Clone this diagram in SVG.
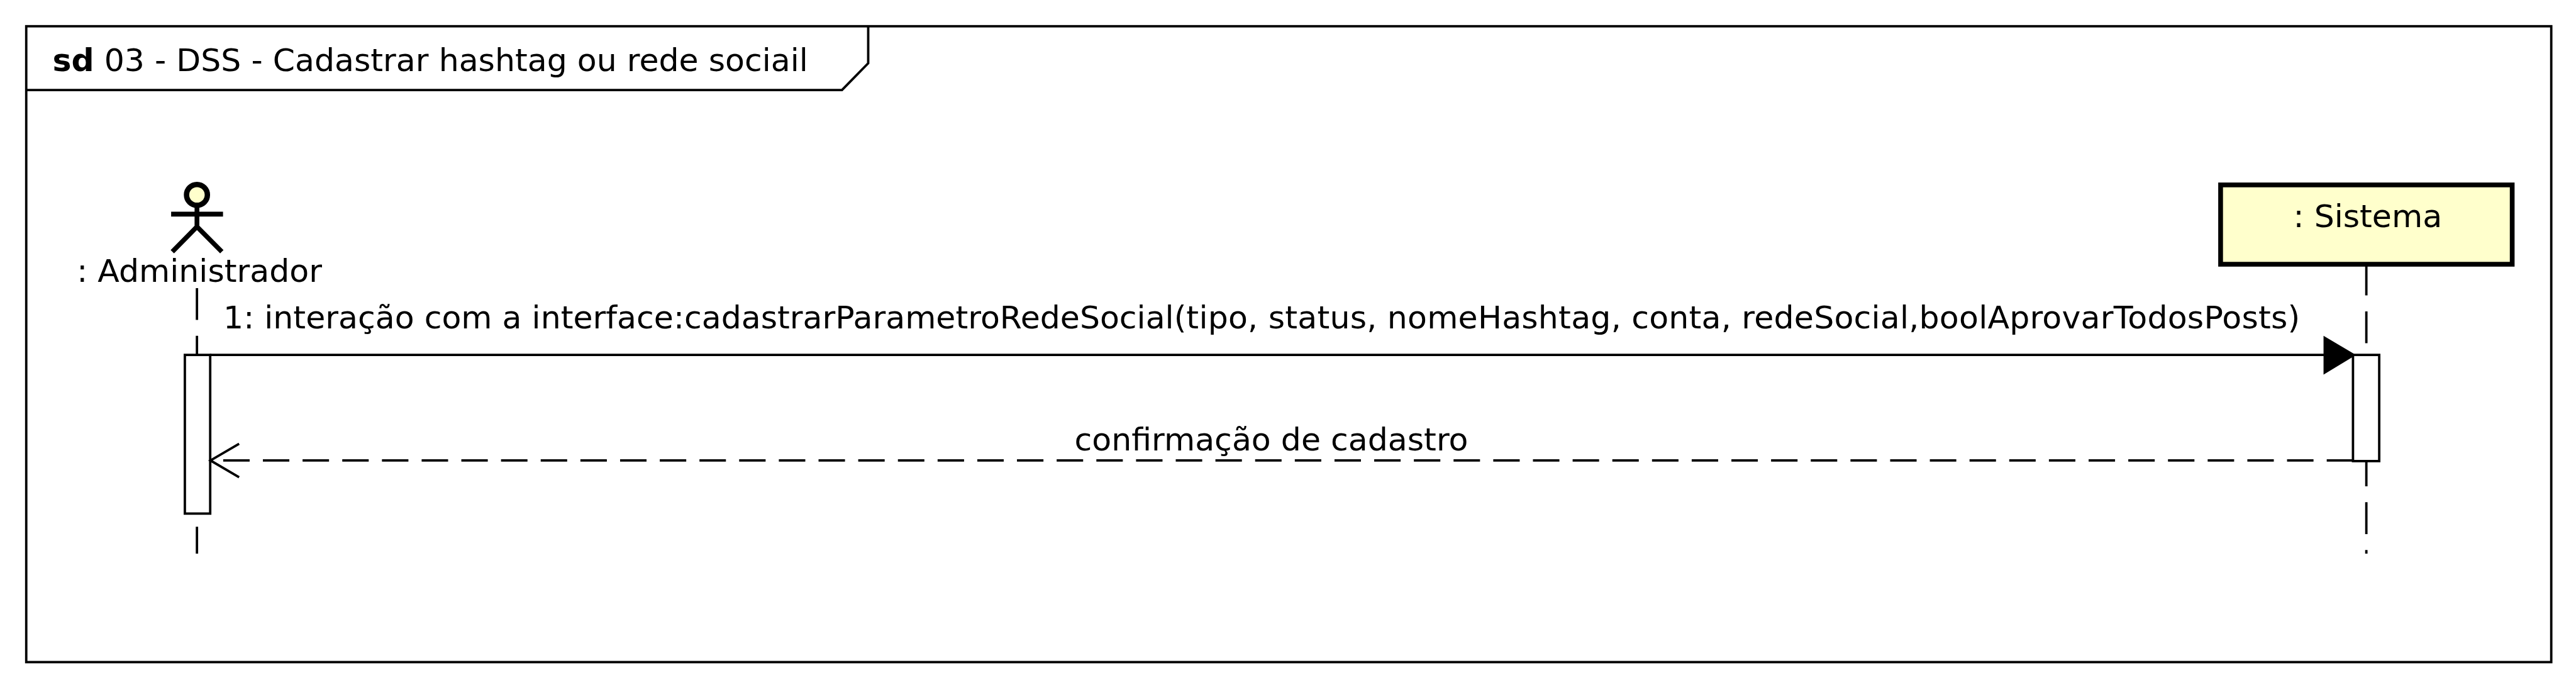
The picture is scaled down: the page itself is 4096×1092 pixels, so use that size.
<svg xmlns="http://www.w3.org/2000/svg" width="4096" height="1092" viewBox="0 0 4096 1092">
<defs>
<style>
text{font-family:"DejaVu Sans",sans-serif;font-size:53.3px;fill:#000}
.ln{fill:none;stroke:#000;stroke-width:4}
.life{fill:none;stroke:#000;stroke-width:4;stroke-dasharray:53.3 26.7}
.act{fill:#fff;stroke:#000;stroke-width:4}
.fig{fill:none;stroke:#000;stroke-width:8}
</style>
</defs>
<rect width="4096" height="1092" fill="#fff"/>
<g transform="scale(0.948148)">
<g id="frame">
<rect class="ln" x="44" y="44" width="4234.5" height="1066"/>
<path class="ln" d="M44 151H1412L1456 106V44"/>
<text x="88" y="119"><tspan font-weight="bold">sd</tspan> 03 - DSS - Cadastrar hashtag ou rede sociail</text>
</g>
<g id="lifelines">
<path class="life" d="M330.3 483V928"/>
<path class="life" d="M3968.4 442V928"/>
</g>
<g id="node-administrador">
<circle cx="330.3" cy="326.7" r="17.5" fill="#ffffcc" stroke="#000" stroke-width="9"/>
<path class="fig" d="M287 359H374M330.3 344V380M289 422L330.3 380L372 422"/>
<text x="129" y="473">: Administrador</text>
<rect class="act" x="310" y="595" width="42.5" height="266"/>
</g>
<g id="node-sistema">
<rect x="3724" y="310" width="489" height="133" fill="#ffffcc" stroke="#000" stroke-width="8"/>
<text x="3846" y="381">: Sistema</text>
<rect class="act" x="3946" y="595" width="44" height="178"/>
</g>
<g id="connectors">
<path class="ln" d="M352 595H3900"/>
<polygon points="3896.6,563 3951,595 3896.6,628" fill="#000"/>
<text x="374.5" y="551">1: interação com a interface:cadastrarParametroRedeSocial(<tspan letter-spacing="0.24">tipo, status, nomeHashtag, conta, redeSocial,boolAprovarTodosPosts)</tspan></text>
<path class="ln" stroke-dasharray="44.37 22.19" d="M374.3 772H3946"/>
<path class="ln" d="M401 744L353 772L401 800"/>
<text x="1802" y="755">confirmação de cadastro</text>
</g>
</g>
</svg>
